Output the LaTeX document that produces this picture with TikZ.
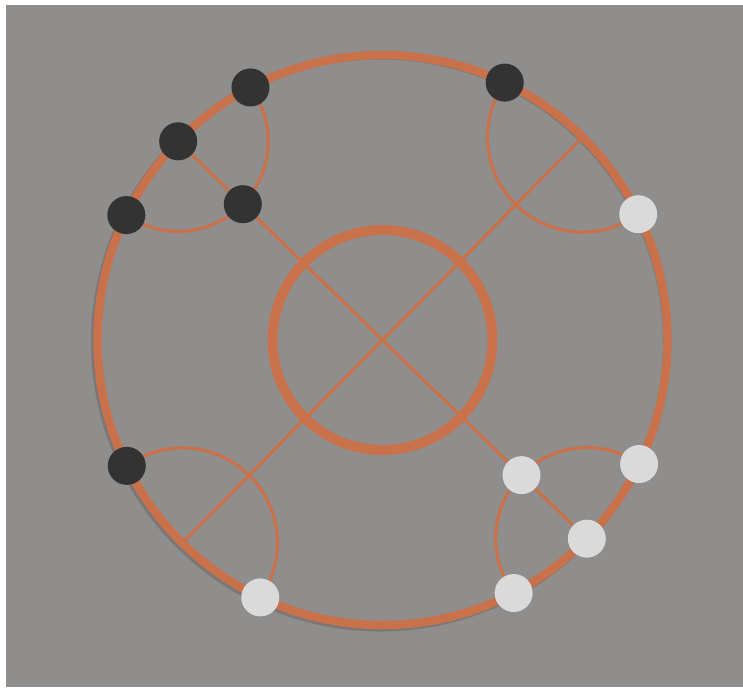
\documentclass[tikz,border=0pt]{standalone}
\usepackage{xcolor}
\usepackage{tikz}
\usetikzlibrary{backgrounds,shadows}
\definecolor{diskOrange}{HTML}{C8714B}
\definecolor{diskBg}{HTML}{8F8E8D}
\definecolor{stoneDark}{HTML}{333333}
\definecolor{stoneLight}{HTML}{DADADA}
\tikzset{
  stone/.style={circle, minimum size=11.4mm, inner sep=0pt,
    drop shadow={shadow xshift=-0.4pt, shadow yshift=-0.6pt, opacity=0.3}},
  blackstone/.style={stone, fill=stoneDark},
  whitestone/.style={stone, fill=stoneLight},
  rim/.style={draw=diskOrange, line width=7.2pt},
  hub/.style={draw=diskOrange, line width=8.5pt},
  geo/.style={draw=diskOrange, line width=2.8pt},
}

\begin{document}
\begin{tikzpicture}[x=0.3mm, y=0.3mm]
  \useasboundingbox (-382.5,-347) rectangle (360.5,340);

  % stones
  \node[blackstone] (b1) at (117.6:285) {};
  \node[blackstone] (b2) at (135.8:285) {};
  \node[blackstone] (b3) at (154.0:285) {};
  \node[blackstone] (b4) at (135.8:194.85) {};
  \node[blackstone] (b5) at (64.6:285) {};
  \node[blackstone] (b6) at (206.2:285) {};
  \node[whitestone] (w1) at (26.2:285) {};
  \node[whitestone] (w2) at (244.6:285) {};
  \node[whitestone] (w3) at (334.2:285) {};
  \node[whitestone] (w4) at (315.8:193.87) {};
  \node[whitestone] (w5) at (315.8:285) {};
  \node[whitestone] (w6) at (297.4:285) {};
  \coordinate (rimNE) at (45.4:285);
  \coordinate (rimSW) at (225.4:285);

  \begin{pgfonlayer}{background}
    \fill[white] (-382.5,-347) rectangle (360.5,340);
    \fill[diskBg] (-376.5,-347) rectangle (360.5,335);

    % board
    \draw[black, opacity=0.15, line width=6pt] (-2,-2) circle (286);
    \draw[rim] (0,0) circle (285);
    \draw[hub] (0,0) circle (110);

    % diagonals
    \draw[geo] (b2) -- (b4) -- (w4) -- (w5);
    \draw[geo] (rimNE) -- (rimSW);

    % corner arcs
    \draw[geo] (b5.center) arc[start angle=145, end angle=305.8, radius=95.06];
    \draw[geo] (w2.center) arc[start angle=325, end angle=485.8, radius=95.06];
    \draw[geo] (b3.center) arc[start angle=234.9, end angle=315.8, radius=90.15]
      arc[start angle=315.8, end angle=396.7, radius=90.15];
    \draw[geo] (w3.center) arc[start angle=415, end angle=495.8, radius=91.13]
      arc[start angle=495.8, end angle=576.6, radius=91.13];
  \end{pgfonlayer}
\end{tikzpicture}
\end{document}
